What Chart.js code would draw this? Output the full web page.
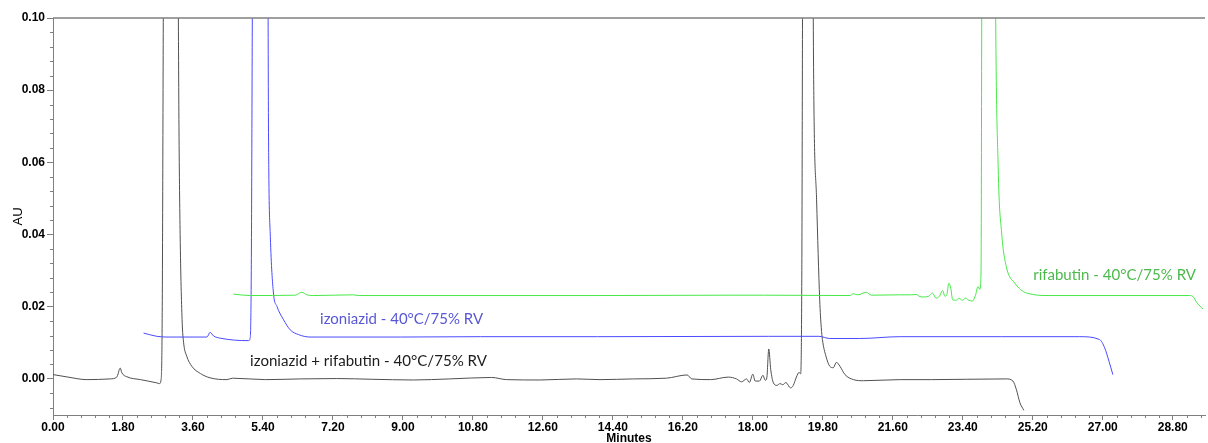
<!DOCTYPE html>
<html>
<head>
<meta charset="utf-8">
<script src="https://cdn.jsdelivr.net/npm/chart.js@4.4.1/dist/chart.umd.min.js"></script>
<style>
  html, body { margin: 0; padding: 0; background: #fff; }
</style>
</head>
<body>
<canvas id="chromChart" width="1208" height="443"></canvas>
<script>
// tick labels
const xTicks = [0, 1.8, 3.6, 5.4, 7.2, 9.0, 10.8, 12.6, 14.4, 16.2, 18.0, 19.8, 21.6, 23.4, 25.2, 27.0, 28.8];
const yTicks = [0, 0.02, 0.04, 0.06, 0.08, 0.10];

// izoniazid + rifabutin (black trace)
const mixTime = [0, 0.36, 0.87, 1.47, 1.64, 1.73, 1.77, 1.90, 2.25, 2.67, 2.74, 2.78, 2.81, 2.84, 3.02, 3.22, 3.24, 3.27,
  3.32, 3.36, 3.44, 3.57, 3.79, 4.04, 4.47, 4.62, 5.47, 6.36, 7.3, 8.2, 9.27, 10.2, 11.28, 11.67, 12.53, 13.46, 14.07,
  14.93, 15.78, 16.31, 16.43, 16.91, 17.37, 17.58, 17.71, 17.84, 17.91, 18.00, 18.06, 18.17, 18.26, 18.32, 18.36, 18.41,
  18.46, 18.53, 18.62, 18.70, 18.77, 18.85, 18.97, 19.04, 19.12, 19.19, 19.23, 19.26, 19.28, 19.40, 19.55, 19.57, 19.64,
  19.72, 19.76, 19.79, 19.88, 19.98, 20.07, 20.15, 20.24, 20.37, 20.59, 20.85, 21.79, 22.6, 23.5, 24.52, 24.69, 24.78,
  24.87, 24.97];
const mixAbs = [0.0012, 0.00055, -0.0002, 0.0, 0.0005, 0.0030, 0.0017, 0.0006, -0.0002, -0.0011, -0.0013, -0.0002, 0.02, 0.11, 0.6, 0.11, 0.07, 0.04,
  0.0164, 0.0100, 0.0063, 0.0035, 0.0015, 0.0003, -0.0002, 0.0002, -0.0002, 0.0, 0.0001, -0.0001, -0.0003, 0.0, 0.0004, -0.0002, -0.0003, 0.0, -0.0002,
  0.0, 0.0002, 0.0011, 0.0, -0.0002, 0.0005, 0.0, -0.0008, 0.0, -0.001, 0.0013, -0.0006, -0.0006, 0.001, -0.0004, 0.0003, 0.0083,
  0.0026, -0.0011, -0.0018, -0.0013, -0.0016, -0.001, -0.0025, -0.0018, 0.0005, 0.0018, 0.0014, 0.03, 0.11, 0.6, 0.11, 0.0772, 0.0496,
  0.0219, 0.0142, 0.0109, 0.0063, 0.0035, 0.0031, 0.0046, 0.0035, 0.0012, -0.0002, -0.0005, -0.0002, -0.0002, -0.0001, 0.0, -0.0006, -0.003,
  -0.0066, -0.0087];

// izoniazid (blue trace)
const izoTime = [2.33, 2.67, 2.93, 3.96, 4.04, 4.13, 4.30, 5.03, 5.07, 5.10, 5.13, 5.33, 5.53, 5.54, 5.55, 5.59, 5.67, 5.76,
  5.93, 6.10, 6.31, 6.61, 8.93, 11.0, 14.0, 18.4, 19.7, 19.98, 20.75, 21.79, 24.4, 26.41, 26.92, 27.05, 27.16, 27.26];
const izoAbs = [0.0127, 0.0118, 0.0116, 0.0116, 0.0129, 0.0119, 0.0113, 0.0106, 0.0112, 0.03, 0.11, 0.6, 0.11, 0.0754, 0.0579, 0.0394, 0.0238, 0.0201,
  0.0164, 0.0136, 0.0123, 0.0116, 0.0116, 0.0117, 0.0117, 0.0118, 0.0118, 0.0112, 0.0112, 0.0117, 0.0117, 0.0117, 0.0109, 0.0086, 0.0049, 0.0012];

// rifabutin (green trace)
const rifTime = [4.64, 5.07, 6.23, 6.40, 6.53, 6.70, 7.73, 7.85, 14.07, 17.41, 18.27, 20.50, 20.58, 20.70, 20.92, 21.05, 21.78,
  22.08, 22.20, 22.30, 22.40, 22.52, 22.62, 22.71, 22.80, 22.88, 22.94, 22.99, 23.04, 23.09, 23.14, 23.22, 23.31, 23.39,
  23.48, 23.55, 23.65, 23.73, 23.79, 23.84, 23.87, 23.89, 24.06, 24.24, 24.31, 24.40, 24.52, 24.74, 25.04, 25.64, 29.24,
  29.32, 29.43, 29.58];
const rifAbs = [0.0235, 0.0231, 0.0232, 0.0240, 0.0233, 0.0231, 0.0233, 0.0231, 0.0231, 0.0232, 0.0232, 0.0231, 0.0236, 0.0233, 0.0240, 0.0232, 0.0233,
  0.0233, 0.0234, 0.0228, 0.0227, 0.0229, 0.0238, 0.0224, 0.0229, 0.0245, 0.0229, 0.0233, 0.0265, 0.0252, 0.0219, 0.0218, 0.0223, 0.0218,
  0.0224, 0.0218, 0.0216, 0.0233, 0.0256, 0.0248, 0.03, 0.11, 0.6, 0.11, 0.0588, 0.0404, 0.0311, 0.0265, 0.0238, 0.0231, 0.0231,
  0.0228, 0.0210, 0.0194];

const traceNames = ['izoniazid + rifabutin - 40°C/75% RV', 'izoniazid - 40°C/75% RV', 'rifabutin - 40°C/75% RV'];

function toPoints(times, values) {
    return times.map((t, i) => ({ x: t, y: values[i] }));
}

// trace labels are placed in data units next to each trace
const traceLabels = [
    { text: traceNames[0], x: 5.07, y: 0.0049, width: 237, color: '#1c1c1c' },
    { text: traceNames[1], x: 6.87, y: 0.0166, width: 163, color: '#5757d6' },
    { text: traceNames[2], x: 25.21, y: 0.0288, width: 163, color: '#4cb94c' }
];

const axisGray = '#7f7f7f';
const tickFont = { family: '"Liberation Sans", Arial, sans-serif', size: 12, weight: 'bold' };

const chromExtras = {
    id: 'chromExtras',
    afterDraw(chart) {
        const { ctx, chartArea } = chart;
        const x = chart.scales.x;
        const y = chart.scales.y;
        ctx.save();

        // top frame line
        ctx.strokeStyle = axisGray;
        ctx.lineWidth = 1.5;
        ctx.beginPath();
        ctx.moveTo(chartArea.left, chartArea.top);
        ctx.lineTo(chartArea.right, chartArea.top);
        ctx.stroke();

        // minor ticks
        ctx.lineWidth = 1;
        ctx.beginPath();
        for (let j = 1; j * 0.36 <= x.max; j++) {
            if (j % 5 === 0) continue;
            const px = Math.round(x.getPixelForValue(j * 0.36)) + 0.5;
            ctx.moveTo(px, chartArea.bottom);
            ctx.lineTo(px, chartArea.bottom + 3);
        }
        for (let j = -2; j * 0.004 < y.max; j++) {
            if (j % 5 === 0) continue;
            const py = Math.round(y.getPixelForValue(j * 0.004)) + 0.5;
            ctx.moveTo(chartArea.left - 3, py);
            ctx.lineTo(chartArea.left, py);
        }
        ctx.stroke();

        // trace labels
        ctx.textBaseline = 'middle';
        ctx.textAlign = 'left';
        traceLabels.forEach(lbl => {
            ctx.font = '16px Lato, sans-serif';
            const w = ctx.measureText(lbl.text).width;
            const size = 16 * lbl.width / w;
            ctx.font = size.toFixed(2) + 'px Lato, sans-serif';
            ctx.fillStyle = lbl.color;
            ctx.fillText(lbl.text, x.getPixelForValue(lbl.x), y.getPixelForValue(lbl.y));
        });
        ctx.restore();
    }
};

const ctx = document.getElementById('chromChart').getContext('2d');
new Chart(ctx, {
    type: 'line',
    data: {
        datasets: [
            { label: traceNames[2], data: toPoints(rifTime, rifAbs), borderColor: '#47e847' },
            { label: traceNames[1], data: toPoints(izoTime, izoAbs), borderColor: '#4a4aff' },
            { label: traceNames[0], data: toPoints(mixTime, mixAbs), borderColor: '#505050' }
        ]
    },
    options: {
        responsive: false,
        animation: false,
        layout: { padding: { top: 18, right: 3, left: 0, bottom: 0 } },
        elements: {
            point: { radius: 0 },
            line: { borderWidth: 1, cubicInterpolationMode: 'monotone', fill: false }
        },
        plugins: {
            legend: { display: false },
            tooltip: { enabled: false }
        },
        scales: {
            x: {
                type: 'linear',
                min: 0,
                max: 29.63,
                afterBuildTicks: scale => { scale.ticks = xTicks.map(v => ({ value: v })); },
                afterFit: scale => { scale.height = 28; },
                ticks: {
                    color: '#000',
                    font: tickFont,
                    padding: 0,
                    maxRotation: 0,
                    autoSkip: false,
                    callback: v => Number(v).toFixed(2)
                },
                grid: { drawOnChartArea: false, tickLength: 5, color: axisGray },
                border: { color: axisGray, width: 1 },
                title: {
                    display: true,
                    text: 'Minutes',
                    color: '#000',
                    font: tickFont,
                    padding: { top: 0, bottom: -3 }
                }
            },
            y: {
                min: -0.01,
                max: 0.10,
                afterBuildTicks: scale => { scale.ticks = yTicks.map(v => ({ value: v })); },
                afterFit: scale => { scale.width = 53; },
                ticks: {
                    color: '#000',
                    font: tickFont,
                    padding: 2,
                    callback: v => Number(v).toFixed(2)
                },
                grid: { drawOnChartArea: false, tickLength: 6, color: axisGray },
                border: { color: axisGray, width: 1 },
                title: {
                    display: true,
                    text: 'AU',
                    color: '#000',
                    font: { family: '"Liberation Sans", Arial, sans-serif', size: 13 },
                    padding: { top: 11, bottom: 0 }
                }
            }
        }
    },
    plugins: [chromExtras]
});
</script>
</body>
</html>
